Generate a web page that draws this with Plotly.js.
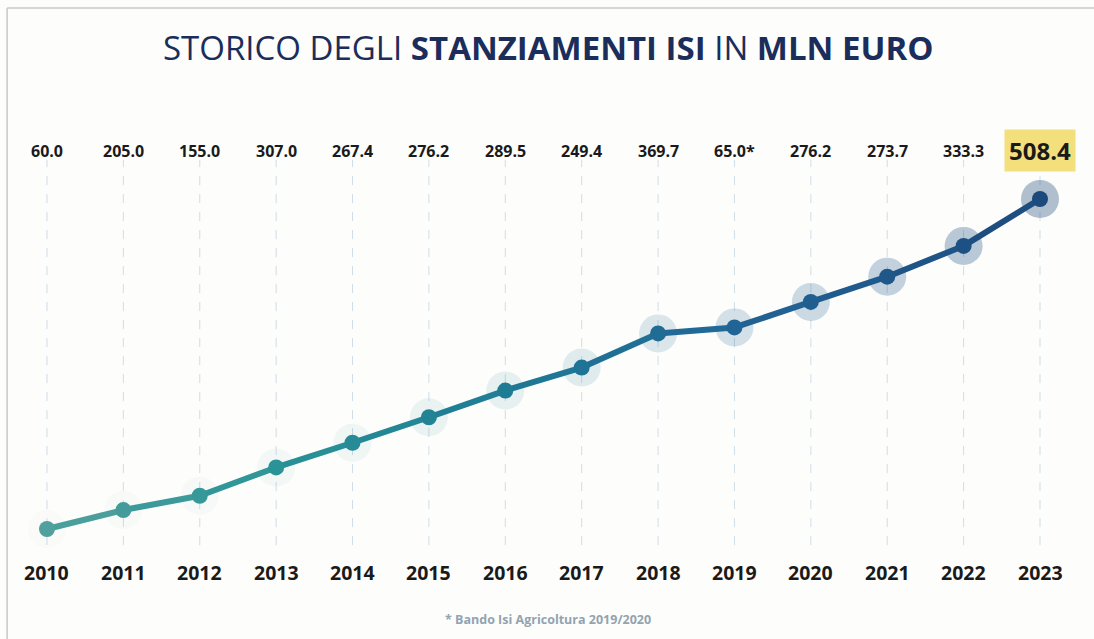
<!DOCTYPE html>
<html><head><meta charset="utf-8">
<script src="https://cdn.plot.ly/plotly-3.0.1.min.js"></script>
<style>html,body{margin:0;padding:0;background:#fff}#chart{width:1094px;height:639px}</style>
</head><body><div id="chart"></div>
<script>
// Data
const years = [2010,2011,2012,2013,2014,2015,2016,2017,2018,2019,2020,2021,2022,2023];
const labels = ["60.0","205.0","155.0","307.0","267.4","276.2","289.5","249.4","369.7","65.0*","276.2","273.7","333.3","508.4"];
const annual = [60.0,205.0,155.0,307.0,267.4,276.2,289.5,249.4,369.7,65.0,276.2,273.7,333.3,508.4];
const cumulative = [60.0,265.0,420.0,727.0,994.4,1270.6,1560.1,1809.5,2179.2,2244.2,2520.4,2794.1,3127.4,3635.8];

const stops=[[0,[80,161,157]],[0.23,[42,147,151]],[0.46,[30,123,148]],[0.7,[33,100,150]],[1,[29,74,124]]];
function lerp(a,b,t){return a.map((v,i)=>Math.round(v+(b[i]-v)*t));}
function colorAt(t){
  for(let k=0;k<stops.length-1;k++){
    const [ta,ca]=stops[k],[tb,cb]=stops[k+1];
    if(t<=tb) return lerp(ca,cb,(t-ta)/(tb-ta));
  }
  return stops[stops.length-1][1];
}
const n=years.length;
const cols=years.map((_,i)=>colorAt(i/(n-1)));
const rgb=c=>`rgb(${c[0]},${c[1]},${c[2]})`;

const traces=[];
// halos
traces.push({x:years,y:cumulative,mode:'markers',type:'scatter',hoverinfo:'skip',
  marker:{size:38,color:years.map((_,i)=>{const t=i/(n-1);return `rgba(${cols[i][0]},${cols[i][1]},${cols[i][2]},${(0.02+0.28*t*t+0.05*t).toFixed(3)})`;}),line:{width:0}}});
// line segments
for(let i=0;i<n-1;i++){
  const c=lerp(cols[i],cols[i+1],0.5);
  traces.push({x:[years[i],years[i+1]],y:[cumulative[i],cumulative[i+1]],mode:'lines',type:'scatter',hoverinfo:'skip',
    line:{color:rgb(c),width:6}});
}
// markers
traces.push({x:years,y:cumulative,mode:'markers',type:'scatter',
  marker:{size:16,color:cols.map(rgb),line:{width:0}}});

const shapes=years.map(y=>({type:'line',xref:'x',yref:'paper',x0:y,x1:y,y0:0.147,y1:0.75,
  line:{color:'#cfdde8',width:1,dash:'dash'},layer:'below'}));
shapes.push({type:'line',xref:'paper',yref:'paper',x0:0.0065,x1:1,y0:0.9875,y1:0.9875,line:{color:'#c8c8c8',width:1.5}});
shapes.push({type:'line',xref:'paper',yref:'paper',x0:0.0065,x1:0.0065,y0:0,y1:0.9875,line:{color:'#c8c8c8',width:1.5}});

const annotations=[];
years.forEach((y,i)=>{
  const last=i===n-1;
  annotations.push({x:y,xref:'x',yref:'paper',y:1-151/639,text:'<b>'+labels[i]+'</b>',showarrow:false,
    font:{family:'Open Sans, sans-serif',size:last?24:16,color:'#1a1a1a'},
    bgcolor:last?'#f3df7c':'rgba(0,0,0,0)',borderpad:last?4:0,xanchor:'center',yanchor:'middle'});
  annotations.push({x:y,xref:'x',yref:'paper',y:1-572/639,text:'<b>'+y+'</b>',showarrow:false,
    font:{family:'Open Sans, sans-serif',size:19.5,color:'#1a1a1a'},xanchor:'center',yanchor:'middle'});
});
annotations.push({xref:'paper',yref:'paper',x:0.501,y:1-619/639,text:'<b>* Bando Isi Agricoltura 2019/2020</b>',showarrow:false,
  font:{family:'Open Sans, sans-serif',size:12.5,color:'#93a3b0'},xanchor:'center',yanchor:'middle'});
annotations.push({xref:'paper',yref:'paper',x:0.501,y:1-48/639,
  text:'STORICO DEGLI <b>STANZIAMENTI ISI</b> IN <b>MLN EURO</b>',showarrow:false,
  font:{family:'Open Sans, sans-serif',size:33,color:'#1b2d5a'},xanchor:'center',yanchor:'middle'});

const layout={width:1094,height:639,margin:{l:0,r:0,t:0,b:0},
  paper_bgcolor:'#fdfdfb',plot_bgcolor:'rgba(0,0,0,0)',showlegend:false,
  xaxis:{range:[2009.385,2023.707],visible:false,fixedrange:true},
  yaxis:{range:[-1132,5792],visible:false,fixedrange:true},
  shapes:shapes,annotations:annotations};
Plotly.newPlot('chart',traces,layout,{displayModeBar:false,staticPlot:true});
</script></body></html>
